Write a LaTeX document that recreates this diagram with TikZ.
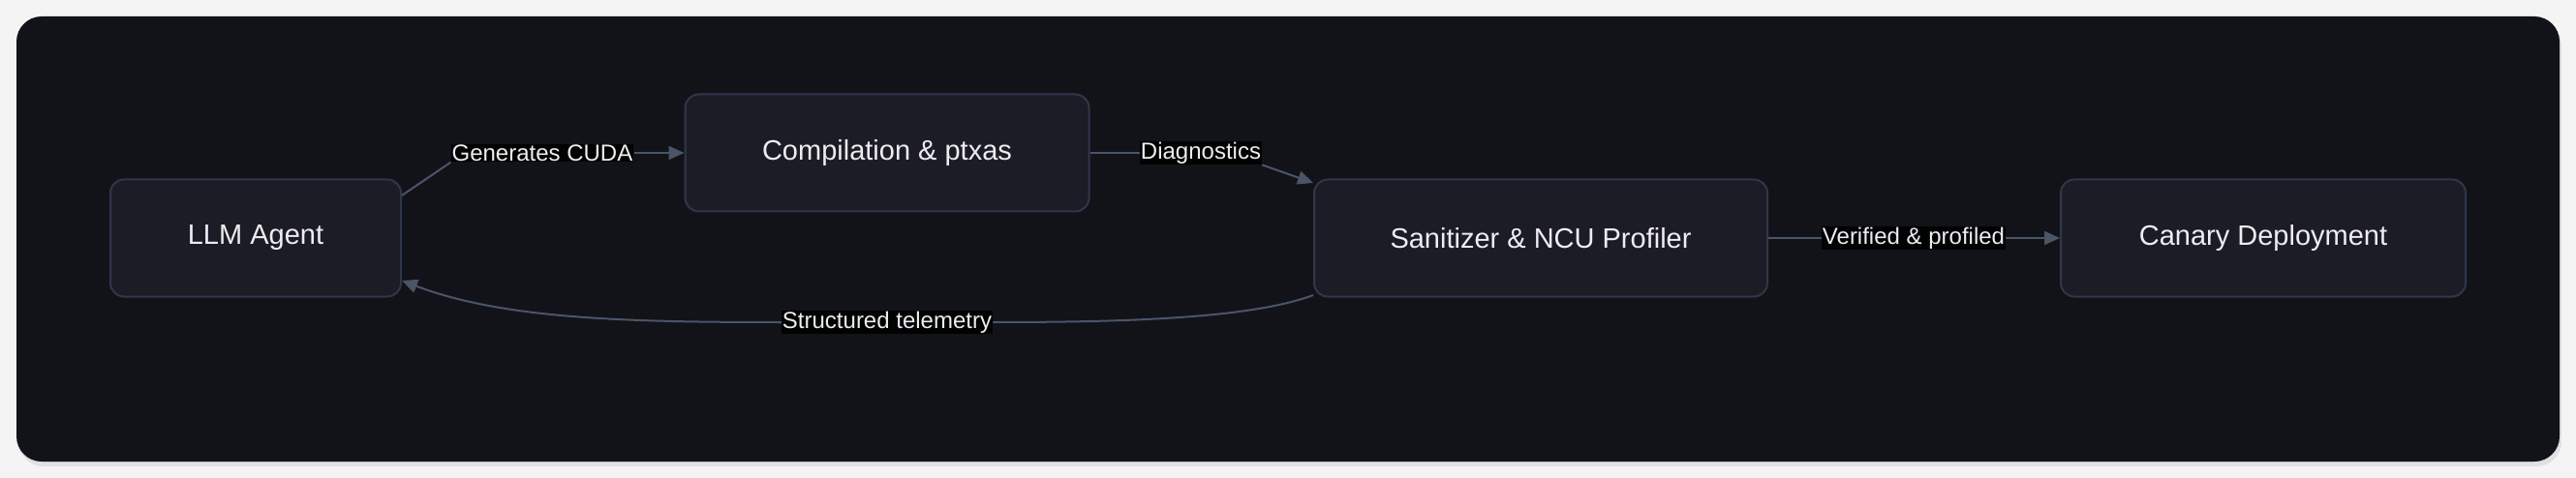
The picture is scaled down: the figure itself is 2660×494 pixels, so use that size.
\documentclass[tikz,border=0pt]{standalone}
\usepackage{fontspec}
\setmainfont{Liberation Sans}
\usetikzlibrary{arrows.meta,positioning}
\definecolor{pagebg}{HTML}{F4F4F5}
\definecolor{panelbg}{HTML}{111319}
\definecolor{boxbg}{HTML}{1B1C26}
\definecolor{boxline}{HTML}{2F3748}
\definecolor{edgecol}{HTML}{4A5568}
\definecolor{txt}{HTML}{EDEDF0}
\tikzset{
  stage/.style={draw=boxline,line width=2pt,fill=boxbg,rounded corners=14pt,
    text=txt,font=\fontsize{29}{34}\selectfont,minimum height=121pt,anchor=center},
  flow/.style={draw=edgecol,line width=2pt,-{Triangle[length=16pt,width=14pt]}},
  tag/.style={fill=black!92!panelbg,text=txt,font=\fontsize{24}{28}\selectfont,inner sep=1pt}
}
\begin{document}
\begin{tikzpicture}[x=1pt,y=-1pt]
\useasboundingbox (0,0) rectangle (2660,494);
\fill[pagebg] (0,0) rectangle (2660,494);
\fill[black!12,rounded corners=26pt] (19,21) rectangle (2645,482);
\fill[panelbg,rounded corners=26pt] (17,17) rectangle (2643,477);
% Stages
\node[stage,minimum width=300pt] (agent) at (264,246) {LLM Agent};
\node[stage,minimum width=417pt] (compile) at (916,158) {Compilation \& ptxas};
\node[stage,minimum width=468pt] (profiler) at (1591,246) {Sanitizer \& NCU Profiler};
\node[stage,minimum width=418pt] (canary) at (2337,246) {Canary Deployment};
% Labels
\node[tag] (gen) at (560,158) {Generates CUDA};
\node[tag] (diag) at (1240,158) {Diagnostics};
\node[tag] (tele) at (916,333) {Structured telemetry};
\node[tag] (verif) at (1976,246) {Verified \& profiled};
% Flows
\draw[draw=edgecol,line width=2pt] (agent.east |- 0,202) -- (gen.south west);
\draw[flow] (gen.east) -- (compile.west);
\draw[draw=edgecol,line width=2pt] (compile.east) -- (diag.west);
\draw[flow] (diag.south east) -- (profiler.north west |- 0,189);
\draw[draw=edgecol,line width=2pt] (profiler.west |- 0,305) .. controls (1290,330) and (1150,333) .. (tele.east);
\draw[flow] (tele.west) .. controls (650,333) and (520,330) .. (agent.east |- 0,290);
\draw[draw=edgecol,line width=2pt] (profiler.east) -- (verif.west);
\draw[flow] (verif.east) -- (canary.west);
\end{tikzpicture}
\end{document}
